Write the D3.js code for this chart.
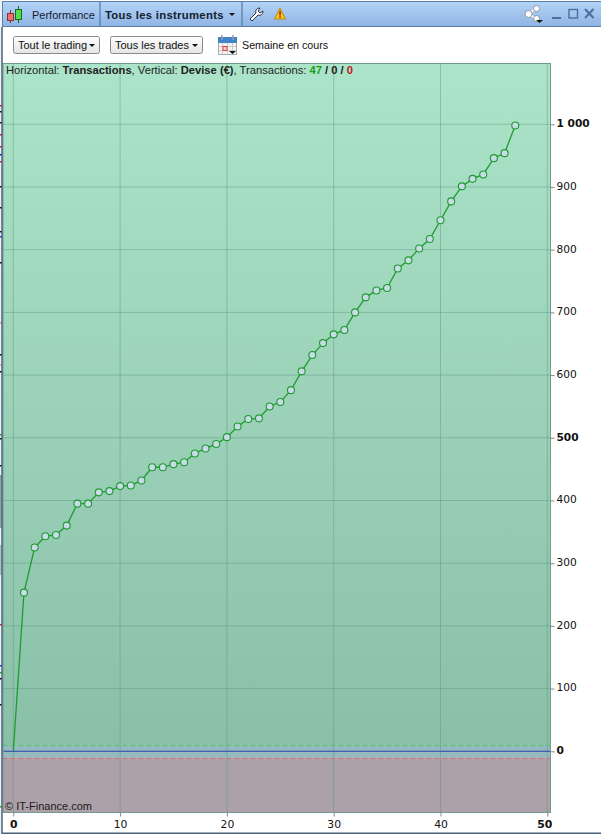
<!DOCTYPE html>
<html lang="fr">
<head>
<meta charset="UTF-8" />
<title>Performance</title>
<script src="https://cdn.jsdelivr.net/npm/d3@7"></script>
<style>
    html, body { margin: 0; padding: 0; background: #fff; overflow: hidden; }
    svg { display: block; font-family: "Liberation Sans", Arial, sans-serif; }
</style>
</head>
<body>
<div id="viz"></div>
<script>
    // --- Data ---
    const equity = [0, 253, 325, 343, 345, 360, 395, 395, 413, 415, 423, 424, 432, 453, 453, 458, 461, 475,
        483, 490, 501, 518, 530, 531, 550, 557, 576, 606, 632, 651, 665, 672, 700, 724, 735, 739,
        770, 783, 802, 817, 847, 877, 901, 913, 920, 946, 954, 998];
    const xTicks = [0, 10, 20, 30, 40, 50];
    const yTicks = [0, 100, 200, 300, 400, 500, 600, 700, 800, 900, 1000];
    const boldX = [0, 50];
    const boldY = [0, 500, 1000];
    const infoParts = [
        ["Horizontal: ", "normal", "#222"], ["Transactions", "bold", "#222"], [", Vertical: ", "normal", "#222"],
        ["Devise (€)", "bold", "#222"], [", Transactions: ", "normal", "#222"], ["47", "bold", "#1a9a1a"],
        [" / ", "bold", "#222"], ["0", "bold", "#222"], [" / ", "bold", "#222"], ["0", "bold", "#c02020"]
    ];

    const W = 601, H = 834;
    const plot = { left: 3, right: 550.5, top: 63.5, bottom: 812.5 };

    const svg = d3.select("#viz").append("svg").attr("width", W).attr("height", H);
    const defs = svg.append("defs");

    function gradient(id, stops) {
        const g = defs.append("linearGradient").attr("id", id).attr("x1", 0).attr("x2", 0).attr("y1", 0).attr("y2", 1);
        stops.forEach(s => g.append("stop").attr("offset", s[0]).attr("stop-color", s[1]));
    }
    gradient("titleBar", [[0, "#b4d4f8"], [1, "#8fb4e4"]]);
    gradient("greenZone", [[0, "#abe4c9"], [1, "#8abfa7"]]);
    gradient("btn", [[0, "#ffffff"], [1, "#e4e4e4"]]);

    const x = d3.scaleLinear().domain([0, 50]).range([13.3, 547.3]);
    const y = d3.scaleLinear().domain([0, 1000]).range([751.3, 124.3]);

    // --- Window behind the panel (left sliver) ---
    svg.append("rect").attr("x", 0).attr("y", 0).attr("width", 2).attr("height", H).attr("fill", "#eef1f5");
    svg.append("rect").attr("x", 0).attr("y", 475).attr("width", 2).attr("height", 53).attr("fill", "#8fa3ad");
    svg.append("rect").attr("x", 0).attr("y", 545).attr("width", 2).attr("height", 30).attr("fill", "#b5bec6");
    const sliver = [[105, "#d22"], [111, "#111"], [122, "#111"], [134, "#d22"], [146, "#d22"], [154, "#11c"], [161, "#d22"],
        [186, "#111"], [207, "#111"], [231, "#111"], [236, "#33c"], [262, "#111"], [322, "#e88"], [354, "#111"], [364, "#e99"],
        [371, "#111"], [434, "#2a2"], [438, "#111"], [465, "#111"], [624, "#d22"], [665, "#33c"], [672, "#2a2"], [678, "#111"],
        [704, "#111"], [806, "#2a2"]];
    svg.selectAll(".sliver").data(sliver).join("rect").attr("class", "sliver")
        .attr("x", 0).attr("y", d => d[0]).attr("width", 2).attr("height", 1.5).attr("fill", d => d[1]);

    // --- Title bar ---
    svg.append("rect").attr("x", 2.5).attr("y", 1.5).attr("width", W - 2).attr("height", 25)
        .attr("fill", "url(#titleBar)").attr("stroke", "#5a7fa8");
    [100, 242].forEach(px => svg.append("line").attr("x1", px).attr("x2", px).attr("y1", 2).attr("y2", 26).attr("stroke", "#4f77a6").attr("stroke-width", 1.2));

    // candle icon
    svg.append("line").attr("x1", 10.5).attr("x2", 10.5).attr("y1", 10).attr("y2", 23).attr("stroke", "#7a2a2a");
    svg.append("rect").attr("x", 7.5).attr("y", 13.5).attr("width", 6).attr("height", 7).attr("fill", "#f07070").attr("stroke", "#8a3030");
    svg.append("line").attr("x1", 18.5).attr("x2", 18.5).attr("y1", 6).attr("y2", 23).attr("stroke", "#1a6a1a");
    svg.append("rect").attr("x", 15.5).attr("y", 9.5).attr("width", 6).attr("height", 10).attr("fill", "#50e050").attr("stroke", "#1a6a1a");

    svg.append("text").attr("x", 32).attr("y", 18.5).attr("font-size", 11).attr("fill", "#14202e").text("Performance");
    svg.append("text").attr("x", 105).attr("y", 18.5).attr("font-size", 11.3).attr("font-weight", "bold").attr("fill", "#14202e").attr("letter-spacing", 0.3).text("Tous les instruments");
    svg.append("path").attr("d", "M229 13h6l-3 3z").attr("fill", "#111");

    // wrench + warning
    svg.append("path").attr("d", "M250 19l6-6c-1-3 1-5 4-5l-2 3 2 2 3-2c0 3-2 5-5 4l-6 6z").attr("fill", "#fff").attr("stroke", "#223").attr("stroke-width", 0.9);
    svg.append("path").attr("d", "M280 8l5.5 11h-11z").attr("fill", "#f5c518").attr("stroke", "#c08a10");
    svg.append("rect").attr("x", 279.3).attr("y", 11).attr("width", 1.5).attr("height", 4.5).attr("fill", "#a02010");
    svg.append("rect").attr("x", 279.3).attr("y", 16.3).attr("width", 1.5).attr("height", 1.5).attr("fill", "#a02010");

    // share + window buttons
    const share = svg.append("g").attr("stroke", "#666").attr("fill", "#fff");
    share.append("path").attr("d", "M536 8.5L528 14L536 18.5").attr("fill", "none").attr("stroke", "#fff").attr("stroke-width", 1.8);
    [[536.5, 8.5, 3], [528.5, 14, 3.5], [536.5, 18.5, 3]].forEach(c => share.append("circle").attr("cx", c[0]).attr("cy", c[1]).attr("r", c[2]).attr("stroke-width", 0.6));
    svg.append("path").attr("d", "M536 20h7l-3.5 3z").attr("fill", "#111");
    svg.append("rect").attr("x", 552).attr("y", 17).attr("width", 9).attr("height", 2).attr("fill", "#4a6f9c");
    svg.append("rect").attr("x", 569).attr("y", 9.5).attr("width", 8.5).attr("height", 8.5).attr("fill", "none").attr("stroke", "#4a6f9c").attr("stroke-width", 1.4);
    svg.append("path").attr("d", "M585 9l8.5 9M593.5 9l-8.5 9").attr("stroke", "#4a6f9c").attr("stroke-width", 2);

    // --- Toolbar ---
    function dropdown(px, w, label) {
        svg.append("rect").attr("x", px + 0.5).attr("y", 36.5).attr("width", w).attr("height", 17).attr("rx", 2)
            .attr("fill", "url(#btn)").attr("stroke", "#8a8a8a");
        svg.append("text").attr("x", px + 5).attr("y", 49).attr("font-size", 11).attr("fill", "#111").text(label);
        svg.append("path").attr("d", `M${px + w - 10} 44h6l-3 3z`).attr("fill", "#111");
    }
    dropdown(13, 86, "Tout le trading");
    dropdown(110, 92, "Tous les trades");

    // calendar
    svg.append("rect").attr("x", 218.5).attr("y", 37.5).attr("width", 18).attr("height", 17).attr("fill", "#f4f4f4").attr("stroke", "#aaa");
    svg.append("rect").attr("x", 218).attr("y", 37).attr("width", 19).attr("height", 6).attr("fill", "#3f86c8");
    svg.append("path").attr("d", "M222 35v5M233 35v5").attr("stroke", "#9a9a9a").attr("stroke-width", 1.5);
    svg.append("path").attr("d", "M222.5 43v11M227.5 43v11M232.5 43v11M219 46.5h17M219 50.5h17").attr("stroke", "#c4c4c4").attr("stroke-width", 0.8);
    svg.append("rect").attr("x", 223).attr("y", 46.5).attr("width", 4).attr("height", 4).attr("fill", "#fbd0d0").attr("stroke", "#e03030").attr("stroke-width", 0.9);
    svg.append("path").attr("d", "M229 51h7l-3.5 3z").attr("fill", "#111");
    svg.append("text").attr("x", 242).attr("y", 49).attr("font-size", 10.7).attr("fill", "#111").text("Semaine en cours");

    // --- Plot background ---
    const g = svg.append("g");
    g.append("rect").attr("x", plot.left).attr("y", plot.top).attr("width", plot.right - plot.left).attr("height", y(-10) - plot.top)
        .attr("fill", "url(#greenZone)");
    g.append("rect").attr("x", plot.left).attr("y", y(10)).attr("width", plot.right - plot.left).attr("height", y(-10) - y(10)).attr("fill", "#95b9bf");
    g.append("rect").attr("x", plot.left).attr("y", y(-10)).attr("width", plot.right - plot.left).attr("height", plot.bottom - y(-10)).attr("fill", "#ada1a9");

    // --- Grid ---
    const gridColor = "#5b8f7c";
    g.selectAll(".gx").data(xTicks).join("line").attr("class", "gx")
        .attr("x1", d => x(d)).attr("x2", d => x(d)).attr("y1", plot.top).attr("y2", plot.bottom)
        .attr("stroke", gridColor).attr("stroke-opacity", 0.42);
    g.selectAll(".gy").data(yTicks.filter(d => d !== 0)).join("line").attr("class", "gy")
        .attr("x1", plot.left).attr("x2", plot.right).attr("y1", d => y(d)).attr("y2", d => y(d))
        .attr("stroke", gridColor).attr("stroke-opacity", 0.42);

    // --- Limit lines ---
    g.append("line").attr("x1", plot.left).attr("x2", plot.right).attr("y1", Math.round(y(10)) + 0.5).attr("y2", Math.round(y(10)) + 0.5)
        .attr("stroke", "#45d045").attr("stroke-dasharray", "4 4");
    g.append("line").attr("x1", plot.left).attr("x2", plot.right).attr("y1", Math.round(y(-10)) + 0.5).attr("y2", Math.round(y(-10)) + 0.5)
        .attr("stroke", "#d86a6a").attr("stroke-dasharray", "4 4");
    g.append("line").attr("x1", plot.left).attr("x2", plot.right).attr("y1", y(0)).attr("y2", y(0))
        .attr("stroke", "#2845b0").attr("stroke-width", 1.1);

    g.append("rect").attr("x", plot.left).attr("y", plot.top).attr("width", plot.right - plot.left).attr("height", plot.bottom - plot.top)
        .attr("fill", "none").attr("stroke", "#6f9c8c");
    g.append("line").attr("x1", 2).attr("x2", 2).attr("y1", 27).attr("y2", 834).attr("stroke", "#4a6178").attr("stroke-width", 1.5);

    // --- Axes ---
    const fmt = d => d3.format(",")(d).replace(",", " ");
    const axisY = d3.axisRight(y).tickValues(yTicks).tickFormat(fmt).tickSize(4).tickPadding(2);
    const ay = svg.append("g").attr("transform", `translate(${plot.right},0)`).call(axisY);
    const axisX = d3.axisBottom(x).tickValues(xTicks).tickFormat(fmt).tickSize(4).tickPadding(4);
    const ax = svg.append("g").attr("transform", `translate(0,${plot.bottom})`).call(axisX);
    [ay, ax].forEach(a => {
        a.select(".domain").remove();
        a.selectAll("line").attr("stroke", "#808890");
        a.selectAll("text").attr("fill", "#111").attr("font-family", "DejaVu Sans");
    });
    ay.selectAll("text").attr("dy", "0.22em").attr("font-size", d => boldY.includes(d) ? 10.6 : 10.6)
        .attr("font-weight", d => boldY.includes(d) ? "bold" : "normal");
    ax.selectAll("text").attr("font-size", 10.8).attr("dx", d => d === 50 ? -3 : 0)
        .attr("font-weight", d => boldX.includes(d) ? "bold" : "normal");

    // --- Equity curve ---
    const line = d3.line().x((d, i) => x(i)).y(d => y(d));
    svg.append("path").datum(equity).attr("d", line).attr("fill", "none").attr("stroke", "#1f9b2f").attr("stroke-width", 1.3);
    svg.selectAll(".pt").data(equity.map((v, i) => [i, v]).slice(1)).join("circle").attr("class", "pt")
        .attr("cx", d => x(d[0])).attr("cy", d => y(d[1])).attr("r", 3.5)
        .attr("fill", "#c8dce8").attr("stroke", "#1f9b2f").attr("stroke-width", 1.1);

    // --- Captions ---
    const info = svg.append("text").attr("x", 6).attr("y", 74).attr("font-size", 11.2);
    info.selectAll("tspan").data(infoParts).join("tspan")
        .attr("font-weight", d => d[1]).attr("fill", d => d[2]).attr("xml:space", "preserve").text(d => d[0]);
    svg.append("text").attr("x", 5).attr("y", 810).attr("font-size", 11).attr("fill", "#1a1a1a").text("© IT-Finance.com");

    // bottom border
    svg.append("rect").attr("x", 2).attr("y", 832.5).attr("width", W).attr("height", 1.5).attr("fill", "#4a6178");
</script>
</body>
</html>
